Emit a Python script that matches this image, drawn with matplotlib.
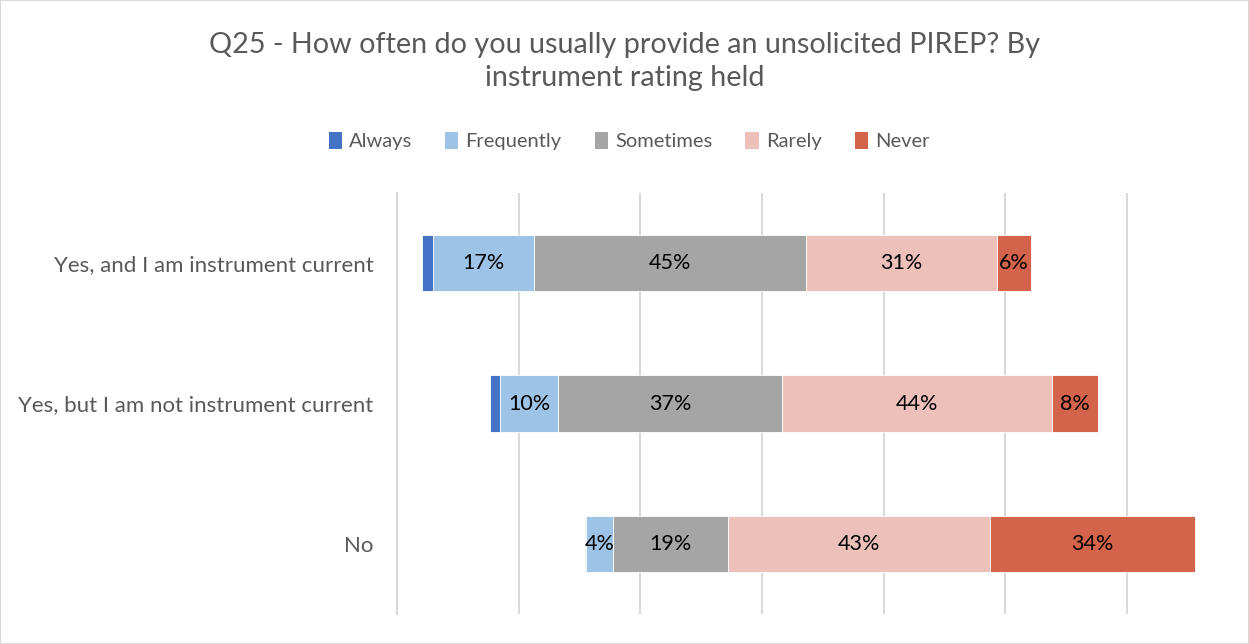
import matplotlib.pyplot as plt
from matplotlib.patches import Rectangle

plt.rcParams['font.family'] = ['Lato', 'DejaVu Sans']

# Data (percent of respondents)
categories = ["Yes, and I am instrument current",
              "Yes, but I am not instrument current",
              "No"]
series = ["Always", "Frequently", "Sometimes", "Rarely", "Never"]
always = [1.8, 1.6, 0.2]
frequently = [16.6, 9.6, 4.4]
sometimes = [44.7, 36.8, 18.9]
rarely = [31.4, 44.4, 43.1]
never = [5.6, 7.6, 33.7]

colors = ["#4472C4", "#9DC3E6", "#A5A5A5", "#EDC0B9", "#D3644B"]
center = 44.9  # middle of "Sometimes" lines up here

fig = plt.figure(figsize=(12.49, 6.44), dpi=100)
ax = fig.add_axes([397 / 1249, 30 / 644, 809 / 1249, 421 / 644])

values = [always, frequently, sometimes, rarely, never]
y = list(range(len(categories)))
left = [center - (a + f + s / 2) for a, f, s in zip(always, frequently, sometimes)]

for name, vals, col in zip(series, values, colors):
    ax.barh(y, vals, left=left, height=0.4, color=col, label=name,
            edgecolor="white", linewidth=0.6, zorder=3)
    for i, v in enumerate(vals):
        if v >= 3:
            ax.text(left[i] + v / 2, y[i], f"{v:.0f}%", ha="center", va="center",
                    fontsize=15.5, color="black", zorder=4)
    left = [l + v for l, v in zip(left, vals)]

ax.set_xlim(0, 133)
ax.set_ylim(2.5, -0.5)
ax.set_yticks(y)
ax.set_yticklabels(categories, fontsize=16, color="#595959")
ax.tick_params(axis="y", length=0, pad=17)
ax.set_xticks([20, 40, 60, 80, 100, 120])
ax.tick_params(axis="x", length=0, labelbottom=False)
ax.grid(axis="x", color="#D9D9D9", linewidth=1.5, zorder=0)
for s in ["top", "right", "bottom"]:
    ax.spines[s].set_visible(False)
ax.spines["left"].set_color("#D9D9D9")
ax.spines["left"].set_linewidth(1.5)

fig.text(0.5, 1 - 45 / 644, "Q25 - How often do you usually provide an unsolicited PIREP? By",
         ha="center", va="center", fontsize=20.7, color="#595959")
fig.text(0.5, 1 - 78 / 644, "instrument rating held",
         ha="center", va="center", fontsize=20.7, color="#595959")

leg = ax.legend(loc="center", bbox_to_anchor=(629 / 1249, 1 - 141 / 644),
                bbox_transform=fig.transFigure, ncol=5, frameon=False,
                fontsize=14.5, handlelength=0.65, handleheight=0.93,
                handletextpad=0.35, columnspacing=1.65)
for t in leg.get_texts():
    t.set_color("#595959")
for h in leg.legend_handles:
    h.set_linewidth(0)

fig.patches.append(Rectangle((0, 0), 1, 1, transform=fig.transFigure, fill=False,
                             edgecolor="#D9D9D9", linewidth=1.5))

fig.savefig("out.png", dpi=100)
